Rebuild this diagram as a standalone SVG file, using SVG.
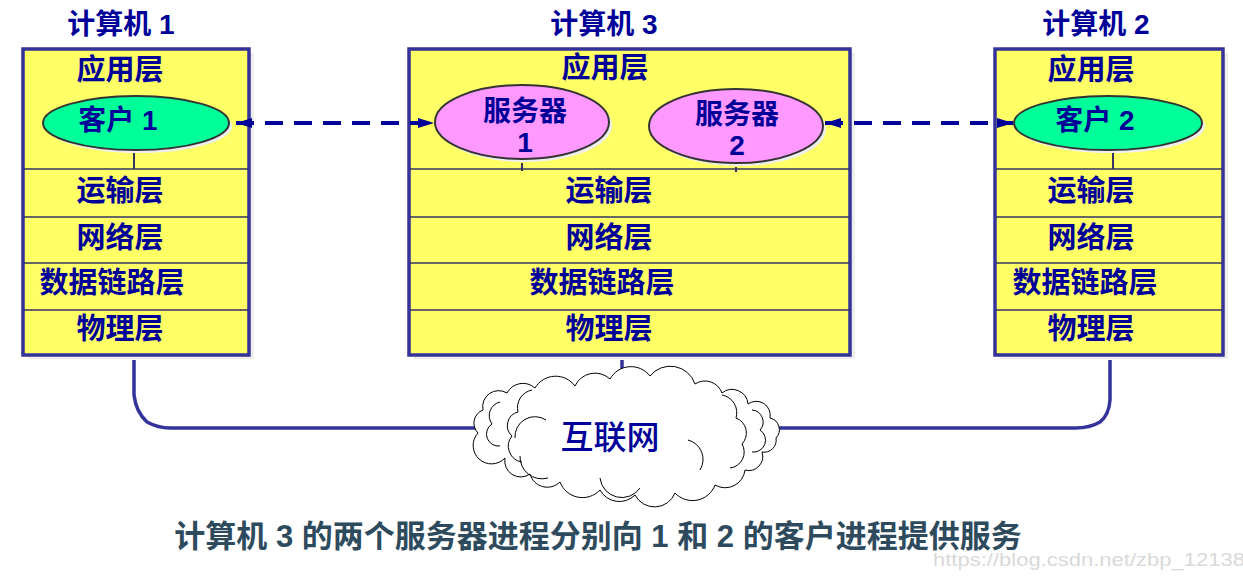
<svg xmlns="http://www.w3.org/2000/svg" width="1243" height="576" viewBox="0 0 1243 576">
<defs>
<style>
.t{font-family:"Liberation Sans","Noto Sans CJK SC",sans-serif;font-weight:bold;font-size:29px;fill:#000099;text-anchor:middle}
.h{font-size:28px}
.e{font-size:28px}
.box{fill:#ffff66;stroke:#333399;stroke-width:3.5}
.sh{fill:#eeeeee}
.ln{stroke:#333366;stroke-width:1.5;fill:none}
.tick{stroke:#333366;stroke-width:2}
.cli{fill:#00ff99;stroke:#333333;stroke-width:2}
.srv{fill:#ff99ff;stroke:#333333;stroke-width:2}
.dash{stroke:#000099;stroke-width:4;stroke-dasharray:18,11;fill:none}
.net{stroke:#333399;stroke-width:3.5;fill:none}
.cloud{fill:#ffffff;stroke:#000000;stroke-width:1}
.ci{fill:none;stroke:#000000;stroke-width:1}
</style>
<marker id="ah" viewBox="0 0 16 10" refX="16" refY="5" markerWidth="16" markerHeight="10" markerUnits="userSpaceOnUse" orient="auto-start-reverse">
<path d="M0,0 L16,5 L0,10 Z" fill="#000099"/>
</marker>
</defs>
<rect width="1243" height="576" fill="#ffffff"/>

<g id="computer1">
<text class="t h" x="121" y="34">计算机 1</text>
<rect class="sh" x="28" y="53" width="226" height="306"/>
<rect class="box" x="23" y="49" width="226" height="306"/>
<line class="ln" x1="24" y1="169" x2="248" y2="169"/>
<line class="ln" x1="24" y1="217" x2="248" y2="217"/>
<line class="ln" x1="24" y1="263" x2="248" y2="263"/>
<line class="ln" x1="24" y1="310" x2="248" y2="310"/>
<line class="tick" x1="134" y1="150" x2="134" y2="169"/>
<text class="t" x="120" y="80">应用层</text>
<ellipse cx="139" cy="126" rx="93" ry="27" fill="#eeeeee"/>
<ellipse class="cli" cx="136" cy="123" rx="93" ry="27"/>
<text class="t e" x="118" y="130">客户 1</text>
<text class="t" x="120" y="201">运输层</text>
<text class="t" x="120" y="248">网络层</text>
<text class="t" x="112" y="293">数据链路层</text>
<text class="t" x="120" y="339">物理层</text>
</g>

<g id="computer3">
<text class="t h" x="604" y="34">计算机 3</text>
<rect class="sh" x="414" y="53" width="441" height="306"/>
<rect class="box" x="409" y="49" width="441" height="306"/>
<line class="ln" x1="410" y1="169" x2="849" y2="169"/>
<line class="ln" x1="410" y1="217" x2="849" y2="217"/>
<line class="ln" x1="410" y1="263" x2="849" y2="263"/>
<line class="ln" x1="410" y1="310" x2="849" y2="310"/>
<line class="tick" x1="522" y1="163" x2="522" y2="171"/>
<line class="tick" x1="736" y1="167" x2="736" y2="172"/>
<text class="t" x="605" y="78">应用层</text>
<ellipse cx="525" cy="125" rx="87" ry="37" fill="#eeeeee"/>
<ellipse class="srv" cx="522" cy="122" rx="87" ry="37"/>
<text class="t e" x="525" y="121">服务器</text>
<text class="t e" x="525" y="152">1</text>
<ellipse cx="739" cy="129" rx="87" ry="37" fill="#eeeeee"/>
<ellipse class="srv" cx="736" cy="126" rx="87" ry="37"/>
<text class="t e" x="737" y="124">服务器</text>
<text class="t e" x="737" y="155">2</text>
<text class="t" x="609" y="201">运输层</text>
<text class="t" x="609" y="248">网络层</text>
<text class="t" x="602" y="293">数据链路层</text>
<text class="t" x="609" y="339">物理层</text>
</g>

<g id="computer2">
<text class="t h" x="1096" y="34">计算机 2</text>
<rect class="sh" x="1000" y="53" width="228" height="306"/>
<rect class="box" x="995" y="49" width="228" height="306"/>
<line class="ln" x1="996" y1="169" x2="1222" y2="169"/>
<line class="ln" x1="996" y1="217" x2="1222" y2="217"/>
<line class="ln" x1="996" y1="263" x2="1222" y2="263"/>
<line class="ln" x1="996" y1="310" x2="1222" y2="310"/>
<line class="tick" x1="1113" y1="150" x2="1113" y2="169"/>
<text class="t" x="1091" y="80">应用层</text>
<ellipse cx="1111" cy="126" rx="94" ry="27" fill="#eeeeee"/>
<ellipse class="cli" cx="1108" cy="123" rx="94" ry="27"/>
<text class="t e" x="1095" y="130">客户 2</text>
<text class="t" x="1091" y="201">运输层</text>
<text class="t" x="1091" y="248">网络层</text>
<text class="t" x="1085" y="293">数据链路层</text>
<text class="t" x="1091" y="339">物理层</text>
</g>

<g id="connectors">
<line class="dash" x1="236" y1="123" x2="434" y2="123" marker-start="url(#ah)" marker-end="url(#ah)"/>
<line class="dash" x1="825" y1="123" x2="1013" y2="123" marker-start="url(#ah)" marker-end="url(#ah)"/>
<path class="net" d="M134,360 L134,395 Q136,412 147,422 Q158,428 170,428 L478,428"/>
<path class="net" d="M622,360 L622,386"/>
<path class="net" d="M1110,360 L1110,400 Q1109,415 1100,422 Q1090,428 1075,428 L736,428"/>
</g>

<g id="internet">
<path class="cloud" d="M478,433 A14,14 0 0 1 483,410 A16,16 0 0 1 507,393 A18,18 0 0 1 535,388 A24,24 0 0 1 575,386 A22,22 0 0 1 610,379 A24,24 0 0 1 650,376 A26,26 0 0 1 695,384 A18,18 0 0 1 722,393 A16,16 0 0 1 748,404 A14,14 0 0 1 770,418 A12,12 0 0 1 776,438 A12,12 0 0 1 762,452 A14,14 0 0 1 745,470 A20,20 0 0 1 715,485 A24,24 0 0 1 675,493 A22,22 0 0 1 635,495 A22,22 0 0 1 600,490 A24,24 0 0 1 560,482 A18,18 0 0 1 530,474 A16,16 0 0 1 505,458 A14,14 0 0 1 478,433 Z"/>
<path class="ci" d="M532,390 A18,18 0 0 0 518,412 M518,412 A14,14 0 0 0 512,436 M512,436 A16,16 0 0 0 522,462"/>
<path class="ci" d="M500,402 A14,14 0 0 0 492,424 M492,424 A12,12 0 0 0 500,446"/>
<path class="ci" d="M546,420 A20,20 0 0 0 515,438 M520,456 A22,22 0 0 0 548,478"/>
<path class="ci" d="M722,395 A18,18 0 0 1 736,418 M736,418 A16,16 0 0 1 742,444 M742,444 A16,16 0 0 1 730,468"/>
<path class="ci" d="M752,410 A12,12 0 0 1 760,430 M760,430 A12,12 0 0 1 752,452"/>
<path class="ci" d="M688,440 A20,20 0 0 1 700,470 M600,478 A22,22 0 0 0 640,488"/>
<text x="610" y="449" style="font-family:'Liberation Sans','Noto Sans CJK SC',sans-serif;font-size:33px;fill:#000099;text-anchor:middle;font-weight:500">互联网</text>
</g>

<text x="598" y="547" style="font-family:'Liberation Sans','Noto Sans CJK SC',sans-serif;font-size:31px;font-weight:bold;fill:#2e4b5e;text-anchor:middle">计算机 3 的两个服务器进程分别向 1 和 2 的客户进程提供服务</text>
<text x="933" y="566" textLength="312" lengthAdjust="spacingAndGlyphs" style="font-family:'Liberation Sans',sans-serif;font-size:18px;fill:#d9d9d9">https://blog.csdn.net/zbp_12138</text>
</svg>
